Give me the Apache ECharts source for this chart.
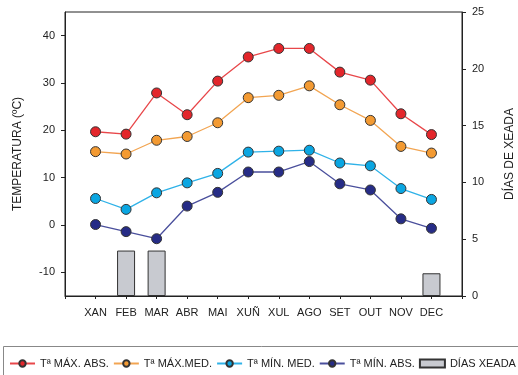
<!DOCTYPE html>
<html><head><meta charset="utf-8">
<script src="https://cdn.jsdelivr.net/npm/echarts@6/dist/echarts.min.js"></script>
<style>html,body{margin:0;padding:0;background:#fff}#c{width:518px;height:375px}</style>
</head><body><div id="c"></div>
<script>
const months = ['XAN','FEB','MAR','ABR','MAI','XUÑ','XUL','AGO','SET','OUT','NOV','DEC'];
const maxAbs = [19.7,19.2,27.9,23.3,30.4,35.5,37.3,37.3,32.3,30.6,23.5,19.1];
const maxMed = [15.5,15.0,17.9,18.7,21.6,26.9,27.4,29.4,25.4,22.1,16.6,15.2];
const minMed = [5.6,3.3,6.8,8.9,10.9,15.4,15.6,15.8,13.1,12.5,7.7,5.4];
const minAbs = [0.1,-1.4,-2.9,4.0,6.9,11.2,11.2,13.4,8.7,7.4,1.3,-0.7];
const diasXeada = [0,4,4,0,0,0,0,0,0,0,0,2];
const leftTicks = [-10,0,10,20,30,40];
const rightTicks = [0,5,10,15,20,25];

const pad = a => [null].concat(a, [null]);
const font = 'Liberation Sans, Arial, sans-serif';
const chart = echarts.init(document.getElementById('c'), null, {renderer:'canvas'});
function lineSeries(name, data, fill, line){
  return {name, type:'line', data:pad(data), yAxisIndex:0, symbol:'circle', symbolSize:10,
    itemStyle:{color:fill, borderColor:'#333', borderWidth:1},
    lineStyle:{color:line, width:1.3}, z:3, connectNulls:false};
}
chart.setOption({
  animation:false,
  grid:{left:65, right:56, top:12, bottom:79, show:true, borderColor:'#222', borderWidth:1,
    outerBoundsMode:'none', containLabel:false},
  xAxis:{type:'category', data:[''].concat(months, ['']), boundaryGap:false,
    axisLine:{onZero:false, lineStyle:{color:'#222'}},
    axisTick:{show:true, length:3, lineStyle:{color:'#222'}},
    axisLabel:{color:'#222', fontFamily:font, fontSize:11, margin:11, interval:0}},
  yAxis:[
    {type:'value', min:-15, max:45, position:'left',
     name:'TEMPERATURA (ºC)', nameLocation:'middle', nameGap:41,
     nameTextStyle:{color:'#222', fontFamily:font, fontSize:12},
     axisLine:{show:true, onZero:false, lineStyle:{color:'#222'}},
     axisTick:{show:true, length:4, customValues:leftTicks, lineStyle:{color:'#222'}},
     axisLabel:{customValues:leftTicks, color:'#222', fontFamily:font, fontSize:11, margin:10},
     splitLine:{show:false}},
    {type:'value', min:0, max:25, interval:5, position:'right',
     name:'DÍAS DE XEADA', nameLocation:'middle', nameGap:42, nameRotate:90,
     nameTextStyle:{color:'#222', fontFamily:font, fontSize:12},
     axisLine:{show:true, onZero:false, lineStyle:{color:'#222'}},
     axisTick:{show:true, length:4, customValues:rightTicks, lineStyle:{color:'#222'}},
     axisLabel:{customValues:rightTicks, color:'#222', fontFamily:font, fontSize:11, margin:10},
     splitLine:{show:false}}
  ],
  legend:{left:9, top:358, padding:0, itemWidth:25, itemHeight:8, itemGap:4,
    textStyle:{color:'#222', fontFamily:font, fontSize:11},
    data:['Tª MÁX. ABS.','Tª MÁX.MED.','Tª MÍN. MED.','Tª MÍN. ABS.',{name:'DÍAS XEADA', icon:'rect'}]},
  graphic:[{type:'rect', shape:{x:3.5, y:346.5, width:530, height:40},
    style:{fill:'none', stroke:'#888', lineWidth:1}, silent:true}],
  series:[
    {name:'DÍAS XEADA', type:'bar', data:pad(diasXeada.map(v => v === 0 ? null : v)), yAxisIndex:1, barWidth:18,
     itemStyle:{color:'#c8cad0', borderColor:'#333', borderWidth:1}, z:1},
    lineSeries('Tª MÁX. ABS.', maxAbs, '#e3262b', '#e8474a'),
    lineSeries('Tª MÁX.MED.', maxMed, '#f39a32', '#f2a552'),
    lineSeries('Tª MÍN. MED.', minMed, '#0aa6e2', '#2fb2e8'),
    lineSeries('Tª MÍN. ABS.', minAbs, '#262c86', '#4a4f9c')
  ]
});
</script></body></html>
